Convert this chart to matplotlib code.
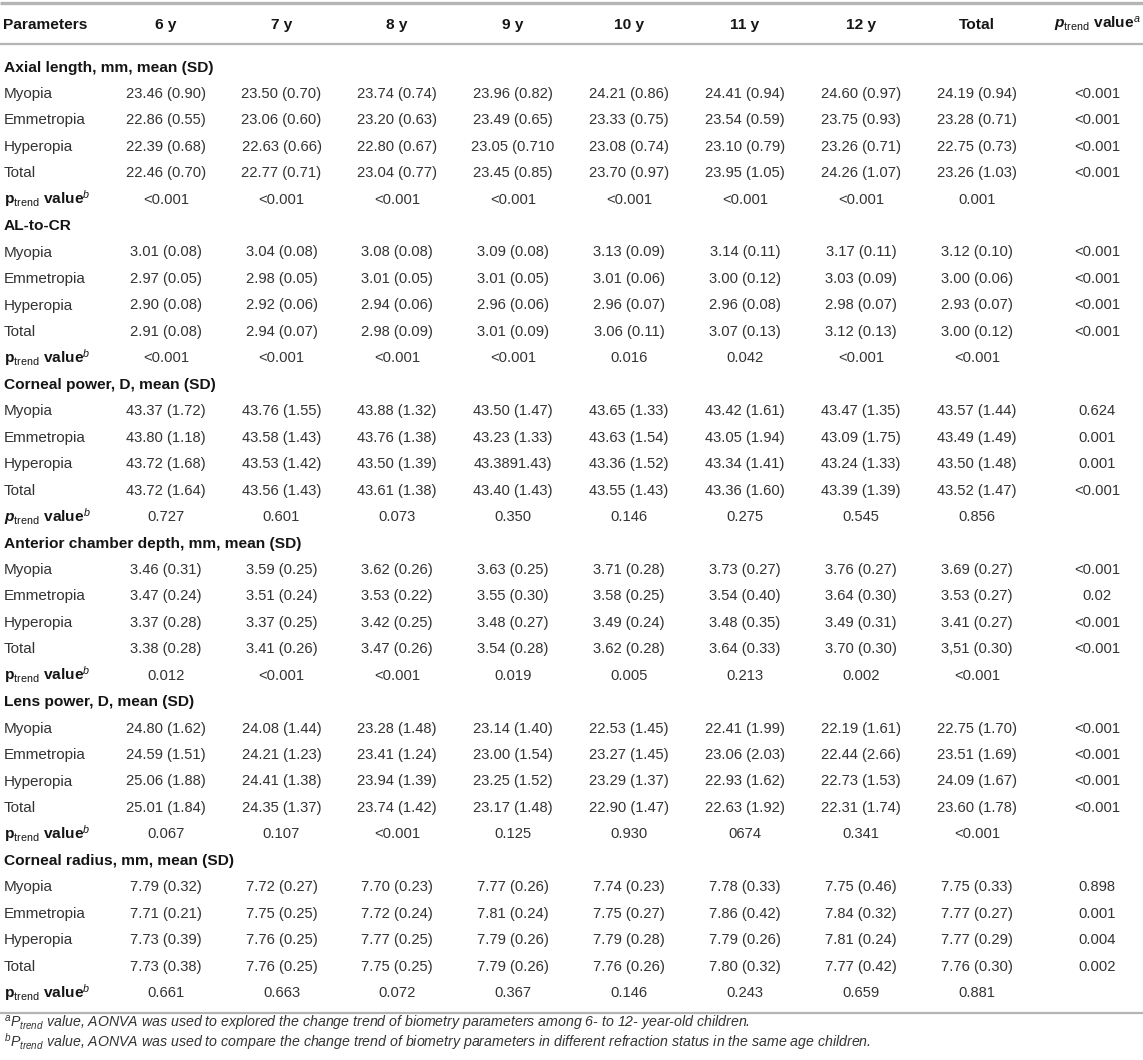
import matplotlib
matplotlib.use("Agg")
import matplotlib.pyplot as plt

plt.rcParams['font.family'] = ['Liberation Sans', 'DejaVu Sans']
plt.rcParams['mathtext.fontset'] = 'custom'
plt.rcParams['mathtext.rm'] = 'Liberation Sans'
plt.rcParams['mathtext.it'] = 'Liberation Sans:italic'
plt.rcParams['mathtext.bf'] = 'Liberation Sans:bold'
try:
    plt.rcParams['mathtext.bfit'] = 'Liberation Sans:italic:bold'
except KeyError:
    pass

# ---------------- data ----------------
col_headers = ["6 y", "7 y", "8 y", "9 y", "10 y", "11 y", "12 y", "Total"]
groups = ["Myopia", "Emmetropia", "Hyperopia", "Total"]
section_titles = [
    "Axial length, mm, mean (SD)",
    "AL-to-CR",
    "Corneal power, D, mean (SD)",
    "Anterior chamber depth, mm, mean (SD)",
    "Lens power, D, mean (SD)",
    "Corneal radius, mm, mean (SD)",
]

axial_length = [
    ["23.46 (0.90)", "23.50 (0.70)", "23.74 (0.74)", "23.96 (0.82)", "24.21 (0.86)", "24.41 (0.94)", "24.60 (0.97)", "24.19 (0.94)", "<0.001"],
    ["22.86 (0.55)", "23.06 (0.60)", "23.20 (0.63)", "23.49 (0.65)", "23.33 (0.75)", "23.54 (0.59)", "23.75 (0.93)", "23.28 (0.71)", "<0.001"],
    ["22.39 (0.68)", "22.63 (0.66)", "22.80 (0.67)", "23.05 (0.710", "23.08 (0.74)", "23.10 (0.79)", "23.26 (0.71)", "22.75 (0.73)", "<0.001"],
    ["22.46 (0.70)", "22.77 (0.71)", "23.04 (0.77)", "23.45 (0.85)", "23.70 (0.97)", "23.95 (1.05)", "24.26 (1.07)", "23.26 (1.03)", "<0.001"],
]
axial_length_p = ["<0.001", "<0.001", "<0.001", "<0.001", "<0.001", "<0.001", "<0.001", "0.001"]

al_to_cr = [
    ["3.01 (0.08)", "3.04 (0.08)", "3.08 (0.08)", "3.09 (0.08)", "3.13 (0.09)", "3.14 (0.11)", "3.17 (0.11)", "3.12 (0.10)", "<0.001"],
    ["2.97 (0.05)", "2.98 (0.05)", "3.01 (0.05)", "3.01 (0.05)", "3.01 (0.06)", "3.00 (0.12)", "3.03 (0.09)", "3.00 (0.06)", "<0.001"],
    ["2.90 (0.08)", "2.92 (0.06)", "2.94 (0.06)", "2.96 (0.06)", "2.96 (0.07)", "2.96 (0.08)", "2.98 (0.07)", "2.93 (0.07)", "<0.001"],
    ["2.91 (0.08)", "2.94 (0.07)", "2.98 (0.09)", "3.01 (0.09)", "3.06 (0.11)", "3.07 (0.13)", "3.12 (0.13)", "3.00 (0.12)", "<0.001"],
]
al_to_cr_p = ["<0.001", "<0.001", "<0.001", "<0.001", "0.016", "0.042", "<0.001", "<0.001"]

corneal_power = [
    ["43.37 (1.72)", "43.76 (1.55)", "43.88 (1.32)", "43.50 (1.47)", "43.65 (1.33)", "43.42 (1.61)", "43.47 (1.35)", "43.57 (1.44)", "0.624"],
    ["43.80 (1.18)", "43.58 (1.43)", "43.76 (1.38)", "43.23 (1.33)", "43.63 (1.54)", "43.05 (1.94)", "43.09 (1.75)", "43.49 (1.49)", "0.001"],
    ["43.72 (1.68)", "43.53 (1.42)", "43.50 (1.39)", "43.3891.43)", "43.36 (1.52)", "43.34 (1.41)", "43.24 (1.33)", "43.50 (1.48)", "0.001"],
    ["43.72 (1.64)", "43.56 (1.43)", "43.61 (1.38)", "43.40 (1.43)", "43.55 (1.43)", "43.36 (1.60)", "43.39 (1.39)", "43.52 (1.47)", "<0.001"],
]
corneal_power_p = ["0.727", "0.601", "0.073", "0.350", "0.146", "0.275", "0.545", "0.856"]

acd = [
    ["3.46 (0.31)", "3.59 (0.25)", "3.62 (0.26)", "3.63 (0.25)", "3.71 (0.28)", "3.73 (0.27)", "3.76 (0.27)", "3.69 (0.27)", "<0.001"],
    ["3.47 (0.24)", "3.51 (0.24)", "3.53 (0.22)", "3.55 (0.30)", "3.58 (0.25)", "3.54 (0.40)", "3.64 (0.30)", "3.53 (0.27)", "0.02"],
    ["3.37 (0.28)", "3.37 (0.25)", "3.42 (0.25)", "3.48 (0.27)", "3.49 (0.24)", "3.48 (0.35)", "3.49 (0.31)", "3.41 (0.27)", "<0.001"],
    ["3.38 (0.28)", "3.41 (0.26)", "3.47 (0.26)", "3.54 (0.28)", "3.62 (0.28)", "3.64 (0.33)", "3.70 (0.30)", "3,51 (0.30)", "<0.001"],
]
acd_p = ["0.012", "<0.001", "<0.001", "0.019", "0.005", "0.213", "0.002", "<0.001"]

lens_power = [
    ["24.80 (1.62)", "24.08 (1.44)", "23.28 (1.48)", "23.14 (1.40)", "22.53 (1.45)", "22.41 (1.99)", "22.19 (1.61)", "22.75 (1.70)", "<0.001"],
    ["24.59 (1.51)", "24.21 (1.23)", "23.41 (1.24)", "23.00 (1.54)", "23.27 (1.45)", "23.06 (2.03)", "22.44 (2.66)", "23.51 (1.69)", "<0.001"],
    ["25.06 (1.88)", "24.41 (1.38)", "23.94 (1.39)", "23.25 (1.52)", "23.29 (1.37)", "22.93 (1.62)", "22.73 (1.53)", "24.09 (1.67)", "<0.001"],
    ["25.01 (1.84)", "24.35 (1.37)", "23.74 (1.42)", "23.17 (1.48)", "22.90 (1.47)", "22.63 (1.92)", "22.31 (1.74)", "23.60 (1.78)", "<0.001"],
]
lens_power_p = ["0.067", "0.107", "<0.001", "0.125", "0.930", "0674", "0.341", "<0.001"]

corneal_radius = [
    ["7.79 (0.32)", "7.72 (0.27)", "7.70 (0.23)", "7.77 (0.26)", "7.74 (0.23)", "7.78 (0.33)", "7.75 (0.46)", "7.75 (0.33)", "0.898"],
    ["7.71 (0.21)", "7.75 (0.25)", "7.72 (0.24)", "7.81 (0.24)", "7.75 (0.27)", "7.86 (0.42)", "7.84 (0.32)", "7.77 (0.27)", "0.001"],
    ["7.73 (0.39)", "7.76 (0.25)", "7.77 (0.25)", "7.79 (0.26)", "7.79 (0.28)", "7.79 (0.26)", "7.81 (0.24)", "7.77 (0.29)", "0.004"],
    ["7.73 (0.38)", "7.76 (0.25)", "7.75 (0.25)", "7.79 (0.26)", "7.76 (0.26)", "7.80 (0.32)", "7.77 (0.42)", "7.76 (0.30)", "0.002"],
]
corneal_radius_p = ["0.661", "0.663", "0.072", "0.367", "0.146", "0.243", "0.659", "0.881"]

footnote_a = r"$^{a}P_{trend}$ value, AONVA was used to explored the change trend of biometry parameters among 6- to 12- year-old children."
footnote_b = r"$^{b}P_{trend}$ value, AONVA was used to compare the change trend of biometry parameters in different refraction status in the same age children."

sections = [
    (axial_length, axial_length_p, False),
    (al_to_cr, al_to_cr_p, False),
    (corneal_power, corneal_power_p, True),
    (acd, acd_p, False),
    (lens_power, lens_power_p, False),
    (corneal_radius, corneal_radius_p, False),
]

# ---------------- layout ----------------
W, H = 1143, 1060
fig = plt.figure(figsize=(W / 100, H / 100), dpi=100)
ax = fig.add_axes([0, 0, 1, 1])
ax.set_xlim(0, W)
ax.set_ylim(H, 0)
ax.axis("off")
renderer = fig.canvas.get_renderer()


def fit_size(text, target_px, **kw):
    """font size at which `text` is target_px wide"""
    t = ax.text(0, 0, text, fontsize=10, **kw)
    w = t.get_window_extent(renderer=renderer).width
    t.remove()
    return 10 * target_px / w


FS_DATA = fit_size("23.50 (0.70)", 80)
FS_LAB = fit_size("Myopia", 49)
FS_HEAD = fit_size("Axial length, mm, mean (SD)", 209, fontweight="bold")
FS_FOOT = fit_size(footnote_a, 744, style="italic")

TXT = "#333333"
HEAD = "#151515"
RULE = "#b5b5b5"
col_x = [166, 281.5, 397, 513, 629, 745, 861, 977, 1097]
label_x = 3.5
row0 = 66
row_h = 26.45


def base(yc, fs):
    # baseline from visual centre of cap height
    return yc + 0.36 * fs * 100 / 72


# rules
ax.plot([0, W], [3, 3], color=RULE, lw=2.4, solid_capstyle="butt")
ax.plot([0, W], [44, 44], color=RULE, lw=1.6, solid_capstyle="butt")
ax.plot([0, W], [1012.5, 1012.5], color=RULE, lw=1.6, solid_capstyle="butt")

# header
hc = 23
ax.text(label_x, base(hc, FS_HEAD), "Parameters", fontsize=FS_HEAD, fontweight="bold", color=HEAD,
        va="baseline", ha="left")
for x, h in zip(col_x[:-1], col_headers):
    ax.text(x, base(hc, FS_HEAD), h, fontsize=FS_HEAD, fontweight="bold", color=HEAD, va="baseline", ha="center")
ax.text(1141, base(hc, FS_HEAD), r"$\mathbfit{p}_{\mathrm{trend}}$ value$^{\mathit{a}}$", fontsize=FS_HEAD,
        fontweight="bold", color=HEAD, va="baseline", ha="right")

r = 0
for title, (rows, prow, italic_p) in zip(section_titles, sections):
    yc = row0 + r * row_h
    ax.text(label_x, base(yc, FS_HEAD), title, fontsize=FS_HEAD, fontweight="bold", color=HEAD,
            va="baseline", ha="left")
    r += 1
    for g, vals in zip(groups, rows):
        yc = row0 + r * row_h
        ax.text(label_x, base(yc, FS_LAB), g, fontsize=FS_LAB, color=TXT, va="baseline", ha="left")
        for x, v in zip(col_x, vals):
            ax.text(x, base(yc, FS_DATA), v, fontsize=FS_DATA, color=TXT, va="baseline", ha="center")
        r += 1
    yc = row0 + r * row_h
    pl = r"$\mathbfit{p}_{\mathrm{trend}}$" if italic_p else r"$\mathbf{p}_{\mathrm{trend}}$"
    ax.text(label_x, base(yc, FS_HEAD), pl + r" value$^{\mathit{b}}$", fontsize=FS_HEAD, fontweight="bold",
            color=HEAD, va="baseline", ha="left")
    for x, v in zip(col_x[:-1], prow):
        ax.text(x, base(yc, FS_DATA), v, fontsize=FS_DATA, color=TXT, va="baseline", ha="center")
    r += 1

ax.text(label_x, 1028, footnote_a, fontsize=FS_FOOT, style="italic", color=TXT, va="baseline", ha="left")
ax.text(label_x, 1047, footnote_b, fontsize=FS_FOOT, style="italic", color=TXT, va="baseline", ha="left")

fig.savefig("out.png", dpi=100, facecolor="white")
